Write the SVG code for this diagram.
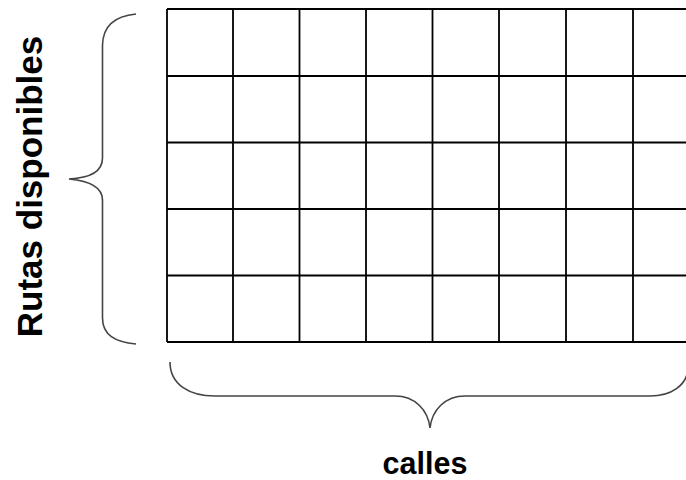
<svg xmlns="http://www.w3.org/2000/svg" width="686" height="480" viewBox="0 0 686 480">
<style>
.grid{stroke:#000;stroke-width:1.8;fill:none}
.brace{stroke:#444;stroke-width:1.6;fill:none}
.lbl{font-family:"Liberation Sans",Arial,sans-serif;font-weight:bold;fill:#000}
</style>
<rect width="686" height="480" fill="#fff"/>
<g id="grid" class="grid">
<path d="M167,9 H686 M167,76 H686 M167,142.5 H686 M167,209 H686 M167,275.5 H686 M167,342 H686"/>
<path d="M167,9 V342 M233,9 V342 M299.5,9 V342 M366,9 V342 M432.5,9 V342 M499,9 V342 M566,9 V342 M633,9 V342"/>
</g>
<g id="connectors">
<path class="brace" d="M136,14 C115,16 103,25 102.5,45 L102.5,158 C102.5,172 90,178 69,179 C90,181 102.5,188 102.5,200 L102.5,318 C102.5,335 115,342 136,344"/>
<path class="brace" d="M170,362 C170,385 190,396 215,396 L395,396 C415,396 428,410 430,428 C432,410 445,396 465,396 L650,396 C672,396 686,385 688,370"/>
</g>
<g id="label-rutas">
<text class="lbl" font-size="35" text-anchor="middle" transform="translate(42,186.5) rotate(-90)">Rutas disponibles</text>
</g>
<g id="label-calles">
<text class="lbl" font-size="30.5" x="425" y="473.5" text-anchor="middle">calles</text>
</g>
</svg>
